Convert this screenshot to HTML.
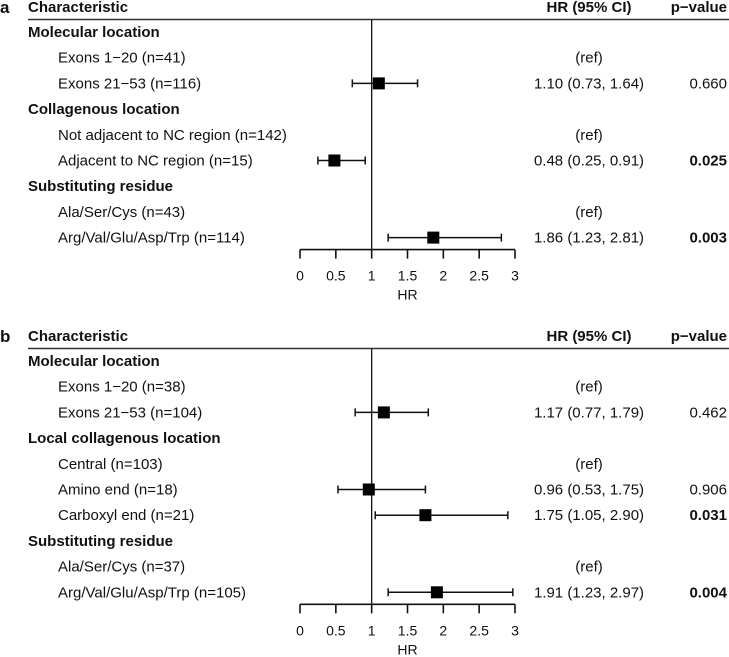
<!DOCTYPE html>
<html><head><meta charset="utf-8"><style>
html,body{margin:0;padding:0;background:#fff;}
svg{display:block;font-family:"Liberation Sans",Arial,sans-serif;}
</style></head><body>
<svg id="chart" width="729" height="657" viewBox="0 0 729 657" xmlns="http://www.w3.org/2000/svg"></svg>
<script>
// Panel a data
const aLabels = ["Molecular location","Exons 1\u221220 (n=41)","Exons 21\u221253 (n=116)","Collagenous location","Not adjacent to NC region (n=142)","Adjacent to NC region (n=15)","Substituting residue","Ala/Ser/Cys (n=43)","Arg/Val/Glu/Asp/Trp (n=114)"];
const aIsHeader = [1,0,0,1,0,0,1,0,0];
const aHR = [null,null,1.10,null,null,0.48,null,null,1.86];
const aLo = [null,null,0.73,null,null,0.25,null,null,1.23];
const aHi = [null,null,1.64,null,null,0.91,null,null,2.81];
const aCI = ["","(ref)","1.10 (0.73, 1.64)","","(ref)","0.48 (0.25, 0.91)","","(ref)","1.86 (1.23, 2.81)"];
const aP = ["","","0.660","","","0.025","","","0.003"];
const aPBold = [0,0,0,0,0,1,0,0,1];
// Panel b data
const bLabels = ["Molecular location","Exons 1\u221220 (n=38)","Exons 21\u221253 (n=104)","Local collagenous location","Central (n=103)","Amino end (n=18)","Carboxyl end (n=21)","Substituting residue","Ala/Ser/Cys (n=37)","Arg/Val/Glu/Asp/Trp (n=105)"];
const bIsHeader = [1,0,0,1,0,0,0,1,0,0];
const bHR = [null,null,1.17,null,null,0.96,1.75,null,null,1.91];
const bLo = [null,null,0.77,null,null,0.53,1.05,null,null,1.23];
const bHi = [null,null,1.79,null,null,1.75,2.90,null,null,2.97];
const bCI = ["","(ref)","1.17 (0.77, 1.79)","","(ref)","0.96 (0.53, 1.75)","1.75 (1.05, 2.90)","","(ref)","1.91 (1.23, 2.97)"];
const bP = ["","","0.462","","","0.906","0.031","","","0.004"];
const bPBold = [0,0,0,0,0,0,1,0,0,1];
const ticks = [0,0.5,1,1.5,2,2.5,3];
const tickLabels = ["0","0.5","1","1.5","2","2.5","3"];

const NS="http://www.w3.org/2000/svg";
const svg=document.getElementById('chart');
function x(v){return 300+(515-300)*v/3;}
function mk(tag,attrs,parent){const e=document.createElementNS(NS,tag);for(const k in attrs)e.setAttribute(k,attrs[k]);(parent||svg).appendChild(e);return e;}
function txt(s,xx,yy,opt,parent){const t=mk('text',{x:xx,y:yy,'font-size':opt.size||15,'text-anchor':opt.anchor||'start','font-weight':opt.bold?'bold':'normal',fill:'#111'},parent);t.textContent=s;return t;}

function panel(letter,top,labels,isHeader,hr,lo,hi,ci,p,pb){
  const g=mk('g',{});
  
  
  const L=txt(letter,0,top+6,{size:17,bold:true},g);
  
  
  const h1=txt('Characteristic',28,top+5,{bold:true},g);
  
  
  const h2=txt('HR (95% CI)',589,top+5,{bold:true,anchor:'middle'},g);
  
  
  const h3=txt('p\u2212value',727,top+5,{bold:true,anchor:'end'},g);
  
  
  const ul=mk('line',{x1:28,x2:729,y1:top+12.5,y2:top+12.5,stroke:'#333','stroke-width':1.6},g);
  
  
  const step=25.7, y0=top+25;
  const axisY=y0+(labels.length-1)*step+12;
  const ref=mk('line',{x1:x(1),x2:x(1),y1:top+12.5,y2:axisY,stroke:'#111','stroke-width':1.3},g);
  
  
  labels.forEach((s,i)=>{
    const yy=y0+i*step;
    const t=txt(s,isHeader[i]?28:58,yy+5,{bold:!!isHeader[i]},g);
    
    
    if(ci[i]){const c=txt(ci[i],589,yy+5,{anchor:'middle'},g);
      
      }
    if(p[i]){const q=txt(p[i],727,yy+5,{anchor:'end',bold:!!pb[i]},g);
      
      }
    if(hr[i]!=null){
      const ln=mk('path',{d:`M${x(lo[i])},${yy}H${x(hi[i])}M${x(lo[i])},${yy-4}V${yy+4}M${x(hi[i])},${yy-4}V${yy+4}`,stroke:'#111','stroke-width':1.5,fill:'none'},g);
      
      
      const b=mk('rect',{x:x(hr[i])-6,y:yy-6,width:12,height:12,fill:'#000'},g);
      
      
    }
  });
  const ax=mk('line',{x1:x(0),x2:x(3),y1:axisY,y2:axisY,stroke:'#111','stroke-width':1.6},g);
  
  
  ticks.forEach((v,i)=>{
    const tk=mk('line',{x1:x(v),x2:x(v),y1:axisY,y2:axisY+9,stroke:'#111','stroke-width':1.6},g);
    
    
    const tl=txt(tickLabels[i],x(v),axisY+31,{anchor:'middle',size:14},g);
    
    
  });
  const at=txt('HR',x(1.5),axisY+50,{anchor:'middle',size:14},g);
  
  
}
panel('a',7,aLabels,aIsHeader,aHR,aLo,aHi,aCI,aP,aPBold);
panel('b',336,bLabels,bIsHeader,bHR,bLo,bHi,bCI,bP,bPBold);
</script>
</body></html>
